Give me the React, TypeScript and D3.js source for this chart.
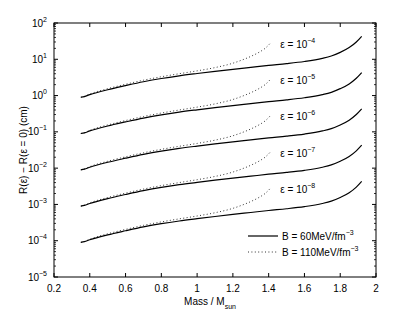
import * as d3 from "d3";

const W = 415;
const H = 313;
const MARGIN = { top: 23, right: 39, bottom: 36, left: 54 };
const FONT = "'Liberation Sans', Arial, Helvetica, sans-serif";

// epsilon values, one pair of curves per value
const epsilons = [1e-4, 1e-5, 1e-6, 1e-7, 1e-8];
const epsExp = ["−4", "−5", "−6", "−7", "−8"];

// B = 60 MeV/fm^-3 curve, read for eps = 1e-4 (cm)
const massSolid = [0.35, 0.37, 0.4, 0.5, 0.6, 0.7, 0.8, 0.9, 1.0, 1.1, 1.2, 1.3, 1.4, 1.5, 1.6, 1.7, 1.75, 1.8, 1.85, 1.89, 1.92];
const rSolid = [0.9, 0.94, 1.06, 1.45, 1.88, 2.4, 2.95, 3.5, 4.05, 4.65, 5.3, 6.0, 6.8, 7.6, 8.7, 10.6, 12.3, 15.5, 21, 30, 43];

// B = 110 MeV/fm^-3 curve, read for eps = 1e-4 (cm)
const massDot = [0.35, 0.37, 0.4, 0.5, 0.6, 0.7, 0.8, 0.9, 1.0, 1.1, 1.2, 1.25, 1.3, 1.35, 1.38, 1.41];
const rDot = [0.9, 0.95, 1.1, 1.55, 2.05, 2.65, 3.3, 4.0, 4.8, 5.9, 7.8, 9.5, 12, 16, 20, 28];

const xTicks = [0.2, 0.4, 0.6, 0.8, 1, 1.2, 1.4, 1.6, 1.8, 2];
const yExps = [-5, -4, -3, -2, -1, 0, 1, 2];
const yExpLabels = ["−5", "−4", "−3", "−2", "−1", "0", "1", "2"];

const LABEL_MASS = 1.465;
const LABEL_R = 26; // label height at eps = 1e-4

export default function App() {
  const bw = W - MARGIN.left - MARGIN.right;
  const bh = H - MARGIN.top - MARGIN.bottom;

  const x = d3.scaleLinear().domain([0.2, 2]).range([0, bw]);
  const y = d3.scaleLog().domain([1e-5, 1e2]).range([bh, 0]);

  const line = d3
    .line<[number, number]>()
    .x((d) => x(d[0]))
    .y((d) => y(d[1]))
    .curve(d3.curveMonotoneX);

  const minor: number[] = [];
  yExps.slice(0, -1).forEach((e) => {
    for (let k = 2; k <= 9; k++) minor.push(k * Math.pow(10, e));
  });

  const curves = epsilons.map((eps, i) => {
    const f = eps / 1e-4;
    const solid = massSolid.map((m, j) => [m, rSolid[j] * f] as [number, number]);
    const dot = massDot.map((m, j) => [m, rDot[j] * f] as [number, number]);
    return (
      <g key={i}>
        <path d={line(dot) || ""} fill="none" stroke="#333" strokeWidth={1} strokeDasharray="1,2.4" />
        <path d={line(solid) || ""} fill="none" stroke="#000" strokeWidth={1.2} />
        <text x={x(LABEL_MASS)} y={y(LABEL_R * f)} dy="0.35em" fontSize={10} fontFamily={FONT}>
          ε = 10
          <tspan dy={-5} fontSize={7}>{epsExp[i]}</tspan>
        </text>
      </g>
    );
  });

  return (
    <svg width={W} height={H} style={{ position: "absolute", left: 0, top: 0, background: "#fff" }}>
      <g transform={`translate(${MARGIN.left},${MARGIN.top})`}>
        {curves}

        {/* frame */}
        <rect x={0} y={0} width={bw} height={bh} fill="none" stroke="#000" strokeWidth={1} />

        {/* x ticks */}
        {xTicks.map((t, i) => (
          <g key={i}>
            <line x1={x(t)} x2={x(t)} y1={bh} y2={bh - 4} stroke="#000" />
            <line x1={x(t)} x2={x(t)} y1={0} y2={4} stroke="#000" />
            <text x={x(t)} y={bh + 11} textAnchor="middle" dy="0.35em" fontSize={10} fontFamily={FONT}>
              {t}
            </text>
          </g>
        ))}

        {/* y major ticks */}
        {yExps.map((e, i) => {
          const v = Math.pow(10, e);
          return (
            <g key={i}>
              <line x1={0} x2={4} y1={y(v)} y2={y(v)} stroke="#000" />
              <line x1={bw} x2={bw - 4} y1={y(v)} y2={y(v)} stroke="#000" />
              <text x={-7} y={y(v)} dy="0.35em" textAnchor="end" fontSize={10} fontFamily={FONT}>
                10
                <tspan dy={-5} fontSize={7}>{yExpLabels[i]}</tspan>
              </text>
            </g>
          );
        })}

        {/* y minor ticks */}
        {minor.map((v, i) => (
          <g key={i}>
            <line x1={0} x2={2} y1={y(v)} y2={y(v)} stroke="#000" strokeWidth={0.8} />
            <line x1={bw} x2={bw - 2} y1={y(v)} y2={y(v)} stroke="#000" strokeWidth={0.8} />
          </g>
        ))}

        {/* axis titles */}
        <text x={bw / 2 - 5} y={bh + 24} dy="0.35em" textAnchor="middle" fontSize={10} fontFamily={FONT}>
          Mass / M
          <tspan dy={4} fontSize={7}>sun</tspan>
        </text>
        <text
          transform={`translate(${23 - MARGIN.left},${bh / 2}) rotate(-90)`}
          textAnchor="middle"
          dy="0.35em"
          fontSize={10}
          fontFamily={FONT}
        >
          R(ε) − R(ε = 0) (cm)
        </text>

        {/* legend */}
        <g transform={`translate(${248 - MARGIN.left},${236 - MARGIN.top})`}>
          <line x1={0} x2={30} y1={0} y2={0} stroke="#000" strokeWidth={1.2} />
          <text x={34} y={0} dy="0.35em" fontSize={10} fontFamily={FONT}>
            B = 60MeV/fm
            <tspan dy={-5} fontSize={7}>−3</tspan>
          </text>
          <line x1={0} x2={30} y1={16} y2={16} stroke="#333" strokeWidth={1} strokeDasharray="1,2.4" />
          <text x={34} y={16} dy="0.35em" fontSize={10} fontFamily={FONT}>
            B = 110MeV/fm
            <tspan dy={-5} fontSize={7}>−3</tspan>
          </text>
        </g>
      </g>
    </svg>
  );
}
